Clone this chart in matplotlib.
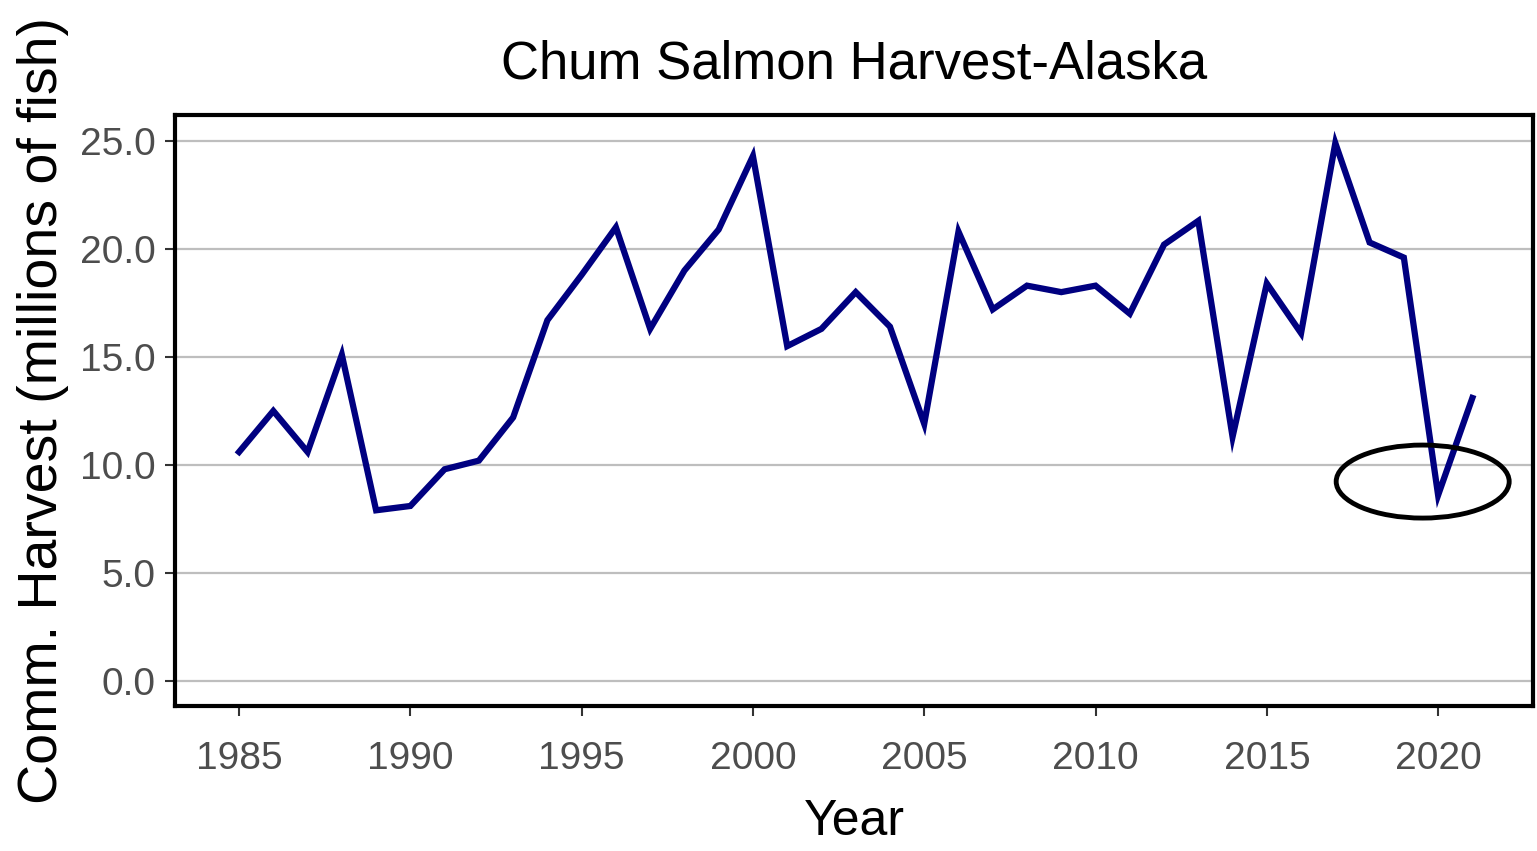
import matplotlib.pyplot as plt
from matplotlib.patches import Ellipse

plt.rcParams['font.family'] = ['Liberation Sans', 'DejaVu Sans']

# data (millions of fish)
years = list(range(1985, 2022))
harvest = [10.6, 12.5, 10.6, 15.1, 7.9, 8.1, 9.8, 10.2, 12.2, 16.7,
           18.8, 21.0, 16.3, 19.0, 20.9, 24.3, 15.5, 16.3, 18.0, 16.4,
           11.9, 20.8, 17.2, 18.3, 18.0, 18.3, 17.0, 20.2, 21.3, 11.3,
           18.4, 16.1, 24.9, 20.3, 19.6, 8.6, 13.1]
yticks = [0, 5, 10, 15, 20, 25]
xticks = [1985, 1990, 1995, 2000, 2005, 2010, 2015, 2020]

fig = plt.figure(figsize=(15.37, 8.51), dpi=100)
ax = fig.add_axes([175/1537, 1 - 706/851, (1533-175)/1537, (706-115)/851])

ax.plot(years, harvest, color='#000080', lw=4.5, solid_joinstyle='miter', zorder=3)

# highlight circle around the 2020 low
ax.add_patch(Ellipse((2019.55, 9.23), 5.05, 3.38, fill=False,
                     edgecolor='black', lw=3.5, zorder=4))

ax.set_xlim(1983.13, 2022.77)
ax.set_ylim(-1.16, 26.2)
ax.set_xticks(xticks)
ax.set_yticks(yticks)
ax.set_yticklabels([f'{v:.1f}' for v in yticks])
ax.yaxis.grid(True, color='#BEBEBE', lw=1.6)
ax.set_axisbelow(True)

for s in ax.spines.values():
    s.set_linewidth(3)
    s.set_color('black')

ax.tick_params(axis='both', labelsize=28, labelcolor='#4D4D4D',
               color='#333333', width=1.5, length=7)
ax.tick_params(axis='x', pad=18)
ax.tick_params(axis='y', pad=7)

ax.set_title('Chum Salmon Harvest-Alaska', fontsize=38, pad=26)
ax.set_xlabel('Year', fontsize=36, labelpad=16)
ax.set_ylabel('Comm. Harvest (millions of fish)', fontsize=40, labelpad=8)

fig.savefig('out.png', dpi=100)
